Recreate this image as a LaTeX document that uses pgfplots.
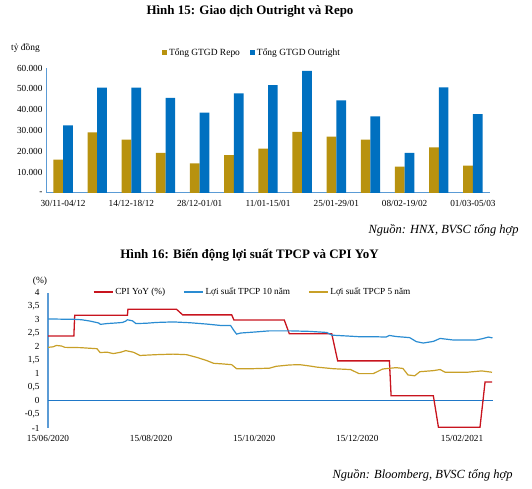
\documentclass[border=0pt]{standalone}
\usepackage{fontspec}
\setmainfont{Liberation Serif}
\usepackage{pgfplots}
\pgfplotsset{compat=1.18}
\definecolor{repo}{HTML}{B8920F}
\definecolor{outright}{HTML}{0070C0}
\definecolor{axisblue}{HTML}{5B9BD5}
\definecolor{cpired}{HTML}{C8141E}
\definecolor{tenyr}{HTML}{2A8CD2}
\definecolor{fiveyr}{HTML}{C8A028}
\definecolor{zeroblue}{HTML}{1F78C8}
\begin{document}
\begin{tikzpicture}[x=1bp,y=1bp]
\path[use as bounding box] (0,0) rectangle (532,489);
% ---------- Chart 1 ----------
\node[font=\bfseries\fontsize{13}{15}\selectfont] at (250,477.3) {Hình 15: Giao dịch Outright và Repo};
\node[font=\fontsize{9.5}{11}\selectfont] at (25.5,441) {tỷ đồng};
\begin{axis}[
  at={(46bp,296bp)}, anchor=south west,
  scale only axis, width=444bp, height=125bp,
  xmin=-0.5, xmax=12.5, ymin=0, ymax=60000,
  enlargelimits=false, scaled y ticks=false,
  axis x line*=bottom, axis y line*=left,
  axis line style={draw=axisblue, line width=1bp},
  major tick length=0pt,
  ytick={0,10000,20000,30000,40000,50000,60000},
  yticklabels={-,10.000,20.000,30.000,40.000,50.000,60.000},
  xtick={0,2,4,6,8,10,12},
  xticklabels={30/11-04/12,14/12-18/12,28/12-01/01,11/01-15/01,25/01-29/01,08/02-19/02,01/03-05/03},
  xticklabel style={yshift=-4bp},
  tick label style={font=\fontsize{9.3}{10}\selectfont},
  ybar=0pt, bar width=9.7bp,
  legend columns=2,
  legend style={at={(0.464,1.12)}, anchor=center, draw=none, fill=none,
    font=\fontsize{9.5}{11}\selectfont,
    /tikz/every even column/.append style={column sep=8bp}},
]
\addplot[fill=repo, draw=none,
  legend image code/.code={\fill[repo] (0bp,-2.5bp) rectangle (5bp,2.5bp);}]
  coordinates {(0,16000) (1,29100) (2,25600) (3,19200) (4,14200) (5,18200) (6,21300)
               (7,29300) (8,27000) (9,25600) (10,12600) (11,21900) (12,13100)};
\addlegendentry{Tổng GTGD Repo}
\addplot[fill=outright, draw=none,
  legend image code/.code={\fill[outright] (0bp,-2.5bp) rectangle (5bp,2.5bp);}]
  coordinates {(0,32500) (1,50600) (2,50600) (3,45600) (4,38600) (5,47800) (6,51800)
               (7,58600) (8,44500) (9,36800) (10,19200) (11,50700) (12,37800)};
\addlegendentry{Tổng GTGD Outright}
\end{axis}
\node[anchor=east, font=\itshape\fontsize{12.5}{14}\selectfont] at (522,259) {Nguồn: HNX, BVSC tổng hợp};
% ---------- Chart 2 ----------
\node[font=\bfseries\fontsize{13}{15}\selectfont] at (249.5,234) {Hình 16: Biến động lợi suất TPCP và CPI YoY};
\node[font=\fontsize{9.5}{11}\selectfont] at (40,208) {(\%)};
\begin{axis}[
  at={(48bp,61bp)}, anchor=south west,
  scale only axis, width=445bp, height=135.3bp,
  xmin=0, xmax=263.3, ymin=-1, ymax=4,
  enlargelimits=false,
  axis x line*=bottom, axis y line*=left,
  y axis line style={draw=axisblue, line width=1.2bp},
  x axis line style={draw=none},
  major tick length=0pt,
  ytick={-1,-0.5,0,0.5,1,1.5,2,2.5,3,3.5,4},
  yticklabels={-1,{-0,5},0,{0,5},1,{1,5},2,{2,5},3,{3,5},4},
  yticklabel style={xshift=-5bp},
  xtick={0,61,122,183,245},
  xticklabels={15/06/2020,15/08/2020,15/10/2020,15/12/2020,15/02/2021},
  xticklabel style={yshift=-4bp},
  tick label style={font=\fontsize{9.3}{10}\selectfont},
  legend columns=3,
  legend style={at={(0.46,1.005)}, anchor=center, draw=none, fill=none,
    font=\fontsize{9.3}{10}\selectfont,
    /tikz/every even column/.append style={column sep=16bp}},
]
\addplot[zeroblue, line width=1bp, forget plot] coordinates {(0,0) (263.3,0)};
\addplot[cpired, line width=1.3bp,
  legend image code/.code={\draw[cpired, line width=1.3bp] (0bp,0bp) -- (19bp,0bp);}]
  coordinates {(0,2.40) (15.3,2.40) (15.8,3.17) (47,3.17) (47.3,3.39) (76,3.39) (79.7,3.18)
   (108.7,3.18) (110,2.99) (139.8,2.99) (142.8,2.48) (167.9,2.48) (171.4,1.48) (202,1.48)
   (203,0.19) (228,0.19) (231,-0.97) (255.6,-0.97) (258.6,0.70) (262.7,0.70)};
\addlegendentry{CPI YoY (\%)}
\addplot[tenyr, line width=1.2bp,
  legend image code/.code={\draw[tenyr, line width=1.2bp] (0bp,0bp) -- (19bp,0bp);}]
  coordinates {(0,3.03) (10,3.02) (15,3.02) (20,3.00) (25,2.95) (30,2.88) (31,2.83) (35,2.86)
   (40,2.88) (44,2.90) (46,2.95) (47,3.00) (50,2.96) (52,2.86) (58,2.87) (64,2.90) (74,2.92)
   (84,2.89) (94,2.84) (102,2.79) (108,2.79) (110,2.60) (111.6,2.47) (114,2.51) (123,2.55)
   (131,2.59) (143,2.59) (155,2.57) (165,2.53) (168,2.43) (177,2.40) (185,2.37) (195,2.37)
   (200,2.36) (202,2.42) (206,2.38) (214,2.34) (218,2.19) (222,2.14) (228,2.20) (232,2.31)
   (240,2.25) (253,2.25) (257,2.30) (260.5,2.36) (263,2.33)};
\addlegendentry{Lợi suất TPCP 10 năm}
\addplot[fiveyr, line width=1.2bp,
  legend image code/.code={\draw[fiveyr, line width=1.2bp] (0bp,0bp) -- (19bp,0bp);}]
  coordinates {(0,1.98) (3,2.00) (5,2.05) (8,2.03) (10,1.98) (19,1.97) (29,1.93) (30.8,1.79)
   (35,1.80) (38.7,1.75) (43,1.80) (46,1.86) (50.5,1.80) (54.4,1.68) (64,1.71) (74,1.73)
   (82,1.71) (88,1.61) (94,1.49) (98,1.39) (103,1.37) (108.7,1.34) (111.6,1.19) (120,1.19)
   (131,1.21) (135,1.28) (143,1.33) (149,1.34) (155,1.29) (159,1.25) (169,1.19) (179,1.16)
   (184,1.01) (192.5,1.01) (198,1.18) (206,1.23) (210,1.20) (213,0.96) (217,0.93) (220,1.08)
   (228,1.12) (232,1.16) (235,1.06) (248,1.06) (256.6,1.11) (262.7,1.06)};
\addlegendentry{Lợi suất TPCP 5 năm}
\end{axis}
\node[anchor=east, font=\itshape\fontsize{12.5}{14}\selectfont] at (516,14) {Nguồn: Bloomberg, BVSC tổng hợp};
\end{tikzpicture}
\end{document}
